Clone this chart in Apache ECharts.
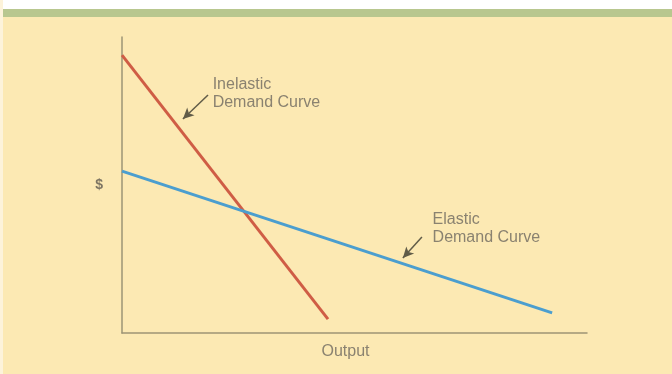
<!DOCTYPE html>
<html>
<head>
<meta charset="utf-8">
<script src="https://cdn.jsdelivr.net/npm/echarts@6/dist/echarts.min.js"></script>
<style>
html,body{margin:0;padding:0;background:#fff;}
#c{width:672px;height:374px;}
</style>
</head>
<body>
<div id="c"></div>
<script>
// Data (arbitrary units: output 0-100, price 0-100)
const inelasticX = [0, 44.3];
const inelasticY = [93.9, 4.7];
const elasticX = [0, 92.5];
const elasticY = [54.7, 6.8];
const xAxisName = 'Output';
const yAxisName = '$';
const inelasticLabel = 'Inelastic\nDemand Curve';
const elasticLabel = 'Elastic\nDemand Curve';
// annotation anchors in data coordinates
const inelasticArrow = [[18.5, 80.4], [13.1, 72.3]];
const inelasticText = [19.6, 86.8];
const elasticArrow = [[64.5, 32.4], [60.4, 25.3]];
const elasticText = [66.9, 41.2];

const textColor = '#8a8270';
const axisColor = '#9d9476';
const font = 'Liberation Sans, Arial, sans-serif';

function pairs(xs, ys) { return xs.map((x, i) => [x, ys[i]]); }

function annot(arrow, textAt, label) {
  return {
    markLine: {
      silent: true,
      symbol: ['none', 'arrow'],
      symbolSize: [8, 11],
      lineStyle: { color: '#615c48', width: 1.5, type: 'solid' },
      label: { show: false },
      data: [[{ coord: arrow[0] }, { coord: arrow[1] }]]
    },
    markPoint: {
      silent: true,
      symbol: 'circle',
      symbolSize: 1,
      itemStyle: { color: 'rgba(0,0,0,0)' },
      label: {
        show: true,
        position: [0, 0],
        align: 'left',
        verticalAlign: 'top',
        formatter: label,
        color: textColor,
        fontSize: 16,
        lineHeight: 18,
        fontFamily: font
      },
      data: [{ coord: textAt }]
    }
  };
}

const chart = echarts.init(document.getElementById('c'));
chart.setOption({
  backgroundColor: '#fce9b3',
  animation: false,
  graphic: [
    { type: 'rect', shape: { x: 0, y: 0, width: 672, height: 9 }, style: { fill: '#ffffff' }, z: 0 },
    { type: 'rect', shape: { x: 0, y: 9, width: 672, height: 8 }, style: { fill: '#b8c78f' }, z: 0 },
    { type: 'rect', shape: { x: 0, y: 0, width: 3, height: 374 }, style: { fill: '#fdf3da' }, z: 0 }
  ],
  grid: { left: 122, right: 85, top: 37, bottom: 41 },
  xAxis: {
    type: 'value', min: 0, max: 100,
    name: xAxisName, nameLocation: 'middle', nameGap: 11,
    nameTextStyle: { color: textColor, fontSize: 16, padding: [0, 18, 0, 0], fontFamily: font },
    axisLine: { show: true, onZero: false, lineStyle: { color: axisColor, width: 1.5 } },
    axisTick: { show: false }, axisLabel: { show: false }, splitLine: { show: false }
  },
  yAxis: {
    type: 'value', min: 0, max: 100,
    name: yAxisName, nameLocation: 'middle', nameGap: 19, nameRotate: 0,
    nameTextStyle: { color: '#7d7563', fontSize: 14, fontWeight: 'bold', fontFamily: font },
    axisLine: { show: true, onZero: false, lineStyle: { color: axisColor, width: 1.5 } },
    axisTick: { show: false }, axisLabel: { show: false }, splitLine: { show: false }
  },
  series: [
    Object.assign({
      type: 'line', name: 'Inelastic', data: pairs(inelasticX, inelasticY),
      showSymbol: false, symbol: 'none',
      lineStyle: { color: '#cf5d45', width: 3 }
    }, annot(inelasticArrow, inelasticText, inelasticLabel)),
    Object.assign({
      type: 'line', name: 'Elastic', data: pairs(elasticX, elasticY),
      showSymbol: false, symbol: 'none',
      lineStyle: { color: '#4b9ecf', width: 3 }
    }, annot(elasticArrow, elasticText, elasticLabel))
  ]
});
</script>
</body>
</html>
